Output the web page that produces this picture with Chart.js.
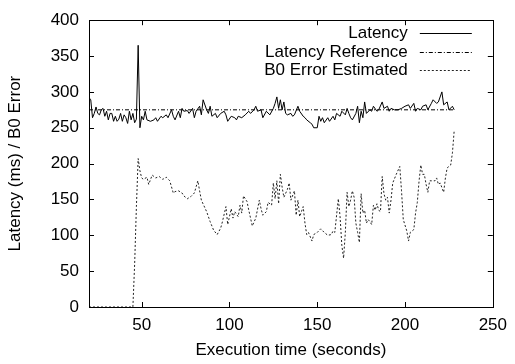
<!DOCTYPE html>
<html>
<head>
<meta charset="utf-8">
<script src="https://cdn.jsdelivr.net/npm/chart.js@4.4.1/dist/chart.umd.min.js"></script>
<style>
html,body{margin:0;padding:0;background:#fff;}
#wrap{width:515px;height:364px;}
</style>
</head>
<body>
<div id="wrap"><canvas id="c" width="515" height="364"></canvas></div>
<script>
const latencyTime = [20,21,22,23,24,25,26,27,28,29,30,31,32,33,34,35,36,37,38,39,40,41,42,43,44,45,46,47,48,49,50,51,52,53,55,57,58,59,61,62,64,65,67,68,69,71,72,73,74,76,77,79,80,81,83,84,85,87,88,89,90,92,93,95,97,98,99,101,103,104,105,107,109,111,112,114,115,116,118,119,121,123,125,126,127,128,129,130,131,132,133,135,136,137,139,140,142,143,144,146,147,148,150,151,152,153,154,156,157,159,160,161,163,164,166,167,168,169,170,172,173,174,175,176,177,178,180,181,182,184,185,187,188,190,191,192,194,196,198,200,202,203,205,206,207,209,210,212,213,215,216,218,219,221,222,224,225,227,228];
const latencyValue = [292,289,264,270,279,270,268,275,277,266,273,261,270,270,259,266,259,262,270,259,268,264,256,273,261,270,257,262,365,250,266,261,273,261,259,261,264,259,266,264,268,264,275,266,261,273,264,277,273,274,270,277,264,273,280,268,289,275,270,280,266,270,264,270,273,268,259,266,264,261,266,264,268,273,270,275,280,273,275,264,273,268,277,284,293,277,289,275,286,270,268,270,266,268,280,273,266,264,261,257,255,250,250,266,259,264,257,264,259,266,261,270,266,273,268,277,270,264,261,270,280,257,273,264,286,270,275,273,280,273,275,286,277,280,273,277,275,275,277,280,282,277,284,273,277,275,280,282,275,284,289,284,286,300,282,286,275,280,275];
const refTime = [20,228];
const refValue = [275,275];
const b0Time = [20,30,40,45,46,47,48,49,50,51,53,54,56,58,60,62,64,66,68,69,71,73,74,76,78,80,82,83,84,87,89,91,93,95,96,98,99,101,102,103,105,106,107,108,110,111,113,115,117,118,119,121,122,124,125,126,127,128,129,130,131,133,134,135,137,138,139,140,142,143,144,145,147,148,150,152,154,156,158,159,160,162,163,164,165,166,167,168,169,170,171,172,173,174,175,176,177,178,179,180,181,182,183,184,185,186,187,188,189,190,191,192,193,195,197,198,199,201,202,203,205,206,207,208,209,210,211,212,213,214,215,217,218,219,220,222,223,224,226,227,228];
const b0Value = [0,0,0,0,60,140,207,190,180,178,181,171,184,180,182,178,181,176,159,161,162,159,155,151,154,159,176,162,149,133,119,107,101,110,119,140,115,137,124,133,126,142,131,155,147,135,113,124,149,137,128,133,146,142,173,151,176,144,185,167,153,164,173,149,162,128,149,126,140,117,101,104,92,101,104,109,104,100,101,106,104,151,126,86,68,104,160,140,149,162,153,117,104,90,158,131,135,117,122,119,115,142,135,144,135,133,182,158,149,153,131,149,173,185,196,162,122,106,92,104,108,131,146,176,198,185,185,171,160,176,176,176,180,171,173,160,180,194,198,215,246];
const xTicks = [50,100,150,200,250];
const yTicks = [0,50,100,150,200,250,300,350,400];

const FONT = 'Liberation Sans, Arial, Helvetica, sans-serif';
const pts = (t, v) => t.map((x, i) => ({x: x, y: v[i]}));

const framePlugin = {
  id: 'frame',
  afterDraw(chart) {
    const {ctx, chartArea: a, scales} = chart;
    ctx.save();
    ctx.strokeStyle = '#000';
    ctx.lineWidth = 1;
    ctx.setLineDash([]);
    ctx.beginPath();
    const L = 5;
    xTicks.forEach(v => {
      const px = Math.round(scales.x.getPixelForValue(v)) + 0.5;
      ctx.moveTo(px, a.bottom); ctx.lineTo(px, a.bottom - L);
      ctx.moveTo(px, a.top); ctx.lineTo(px, a.top + L);
    });
    yTicks.forEach(v => {
      const py = Math.round(scales.y.getPixelForValue(v)) + 0.5;
      ctx.moveTo(a.left, py); ctx.lineTo(a.left + L, py);
      ctx.moveTo(a.right, py); ctx.lineTo(a.right - L, py);
    });
    ctx.stroke();
    ctx.strokeRect(Math.round(a.left) + 0.5, Math.round(a.top) + 0.5, Math.round(a.right - a.left), Math.round(a.bottom - a.top));
    // legend
    ctx.font = '17px ' + FONT;
    ctx.fillStyle = '#000';
    ctx.textAlign = 'right';
    ctx.textBaseline = 'middle';
    const rows = [a.top + 13, a.top + 32, a.top + 50];
    chart.data.datasets.forEach((ds, i) => {
      const y = rows[i];
      ctx.fillText(ds.label, a.right - 85, y);
      ctx.beginPath();
      ctx.strokeStyle = ds.borderColor;
      ctx.lineWidth = ds.borderWidth;
      ctx.setLineDash(ds.borderDash || []);
      ctx.moveTo(a.right - 73, Math.round(y) + 0.5);
      ctx.lineTo(a.right - 21, Math.round(y) + 0.5);
      ctx.stroke();
    });
    ctx.restore();
  }
};

new Chart(document.getElementById('c'), {
  type: 'line',
  data: {
    datasets: [
      {label: 'Latency', data: pts(latencyTime, latencyValue), borderColor: '#000', borderWidth: 1, pointRadius: 0, tension: 0},
      {label: 'Latency Reference', data: pts(refTime, refValue), borderColor: '#000', borderWidth: 1, borderDash: [4,2,1,2], pointRadius: 0, tension: 0},
      {label: 'B0 Error Estimated', data: pts(b0Time, b0Value), borderColor: '#222', borderWidth: 1, borderDash: [2,2], pointRadius: 0, tension: 0}
    ]
  },
  options: {
    responsive: false,
    animation: false,
    devicePixelRatio: 1,
    layout: {padding: {left: 0, right: 17, top: 11, bottom: 0}},
    plugins: {legend: {display: false}, tooltip: {enabled: false}},
    scales: {
      x: {
        type: 'linear', min: 20, max: 250,
        afterBuildTicks: s => { s.ticks = xTicks.map(v => ({value: v})); },
        afterFit: s => { s.height = 57; },
        grid: {display: false, drawTicks: false},
        border: {display: false},
        ticks: {padding: 8, color: '#000', font: {family: FONT, size: 17}},
        title: {display: true, text: 'Execution time (seconds)', color: '#000', font: {family: FONT, size: 17}, padding: {top: 0, bottom: 3}}
      },
      y: {
        type: 'linear', min: 0, max: 400,
        afterBuildTicks: s => { s.ticks = yTicks.map(v => ({value: v})); },
        afterFit: s => { s.width = 89; },
        grid: {display: false, drawTicks: false},
        border: {display: false},
        ticks: {padding: 10, color: '#000', font: {family: FONT, size: 17}},
        title: {display: true, text: 'Latency (ms) / B0 Error', color: '#000', font: {family: FONT, size: 17}, padding: {top: 5, bottom: 0}}
      }
    }
  },
  plugins: [framePlugin]
});
</script>
</body>
</html>
